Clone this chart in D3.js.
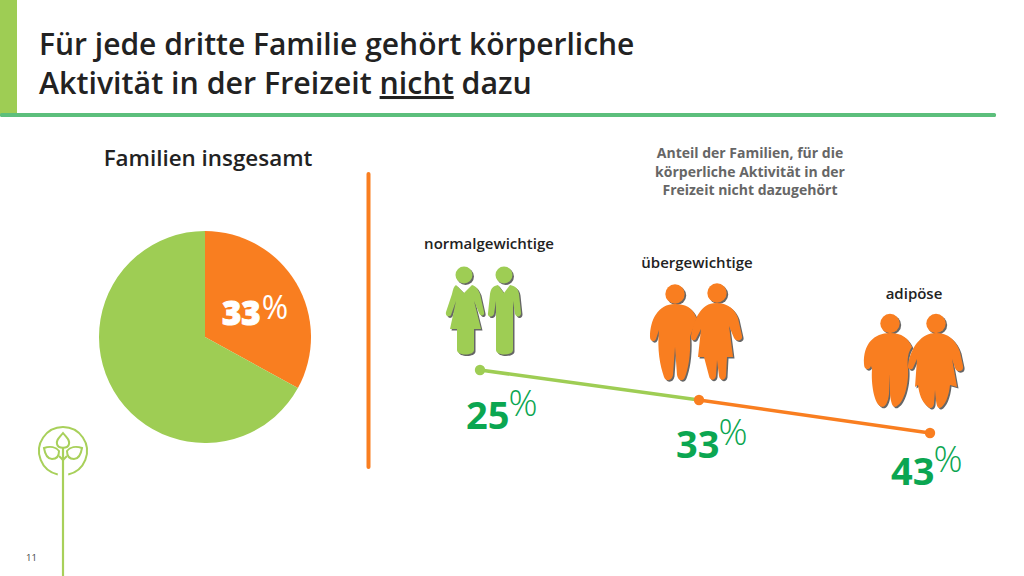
<!DOCTYPE html>
<html lang="de">
<head>
    <meta charset="UTF-8">
    <title>Familien</title>
    <script src="https://d3js.org/d3.v7.min.js"></script>
    <style>
        html, body { margin: 0; padding: 0; background: #fff; }
        svg { display: block; }
        text { font-family: "Open Sans", "Noto Sans", sans-serif; }
    </style>
</head>
<body>
<script>
    // Kreisdiagramm: Familien insgesamt
    var pieLabels = ['nicht dazu', 'dazu'];
    var pieValues = [33, 67];
    // Linie: nach Gewichtsgruppe
    var groups = ['normalgewichtige', 'übergewichtige', 'adipöse'];
    var groupValues = [25, 33, 43];
    var titleLines = ['Für jede dritte Familie gehört körperliche', 'Aktivität in der Freizeit ', 'nicht', ' dazu'];
    var noteLines = ['Anteil der Familien, für die', 'körperliche Aktivität in der', 'Freizeit nicht dazugehört'];

    var width = 1024, height = 576;
    var green = '#9ecd54', orange = '#f97e20', pctGreen = '#0ba651', shadow = '#666666', dark = '#222222';

    var svg = d3.select('body').append('svg').attr('width', width).attr('height', height);

    // Kopf
    svg.append('rect').attr('x', 0).attr('y', 0).attr('width', 17).attr('height', 116).attr('fill', green);
    svg.append('rect').attr('x', 0).attr('y', 113).attr('width', 996).attr('height', 4).attr('rx', 1.5).attr('fill', '#5cbf7c');
    var title = svg.append('text').attr('x', 39).attr('y', 55).attr('font-size', 30).attr('font-weight', 600).attr('fill', dark);
    title.text(titleLines[0]);
    var title2 = svg.append('text').attr('x', 39).attr('y', 94).attr('font-size', 30.35).attr('font-weight', 600).attr('fill', dark);
    title2.append('tspan').attr('xml:space', 'preserve').text(titleLines[1]);
    title2.append('tspan').attr('text-decoration', 'underline').text(titleLines[2]);
    title2.append('tspan').text(titleLines[3]);

    // Kreis
    svg.append('text').attr('x', 208).attr('y', 166).attr('text-anchor', 'middle')
        .attr('font-size', 22.4).attr('font-weight', 600).attr('fill', dark).text('Familien insgesamt');
    var pieData = d3.pie().sort(null)(pieValues);
    var arc = d3.arc().innerRadius(0).outerRadius(106);
    var pieG = svg.append('g').attr('transform', 'translate(205,337)');
    pieG.selectAll('path').data(pieData).enter().append('path')
        .attr('d', arc)
        .attr('fill', function (d, i) { return i === 0 ? orange : green; });
    var pieText = svg.append('text').attr('x', 222).attr('y', 325).attr('fill', '#fff');
    pieText.append('tspan').attr('font-size', 33).attr('font-weight', 800)
        .attr('stroke', '#fff').attr('stroke-width', 1).text(pieValues[0]);
    pieText.append('tspan').attr('font-size', 32).attr('dx', 1).attr('dy', -6).text('%');

    // Trennlinie
    svg.append('line').attr('x1', 368.5).attr('x2', 368.5).attr('y1', 174).attr('y2', 467)
        .attr('stroke', orange).attr('stroke-width', 4).attr('stroke-linecap', 'round');

    // Anmerkung
    svg.append('g').selectAll('text').data(noteLines).enter().append('text')
        .attr('x', 750).attr('y', function (d, i) { return 158 + i * 18.5; })
        .attr('text-anchor', 'middle').attr('font-size', 14).attr('font-weight', 700).attr('fill', '#666')
        .text(function (d) { return d; });

    // Figuren
    var slimWoman = 'M11,-19 L19,-11 L27,-19 C31,-18 33,-15 35,-10 L39,8 C40,12 36,13 34,9 L29,-3 L36,25 L29,25 L29,46 C29,52 12,52 12,46 L12,25 L5,25 L11,-3 L6,11 C4,14 0,12 1,8 L7,-10 C8,-15 9,-18 11,-19 Z';
    var slimMan = 'M11,-19 L17,-11 L23,-19 C28,-18 31,-16 32,-10 L34,9 C34,13 30,14 28,10 L26,-3 L26,46 C26,52 9,52 9,46 L9,-3 L7,10 C5,14 0,13 1,9 L3,-10 C4,-16 6,-18 11,-19 Z';
    var overMan = 'M25,19 C35,19 42,22 46,32 C47,36 42,45 40,52 C41,70 38,85 35,92 C33,97 28,96 27,90 L25,62 L23,90 C22,96 16,97 14,92 C10,80 7,65 9,45 L6,54 C4,58 0,56 0,52 C0,35 8,19 25,19 Z';
    var overWoman = 'M25,19 C38,19 44,26 47,34 L51,52 C52,57 45,58 43,54 L38,42 L42,73 L36,73 L35,92 C34,97 29,97 28,92 L26,76 L25,92 C24,97 19,97 18,92 L13,73 L7,73 L10,45 L5,55 C3,58 -1,56 0,52 C3,35 10,19 25,19 Z';
    var adiMan = 'M26,19 C38,19 44,24 48,33 C44,38 43,45 44,55 C45,70 40,88 33,92 C29,95 27,90 26,80 L25,60 L25,80 C24,90 20,95 16,92 C10,88 7,70 8,55 L7,52 C5,57 0,56 0,50 C-1,30 10,19 26,19 Z';
    var adiWoman = 'M28,19 C40,19 48,26 52,38 L55,52 C56,58 49,59 47,54 L44,45 L49,73 L42,71 C41,82 37,92 32,94 C29,95 28,90 27,76 L26,90 C25,95 22,95 19,92 C14,88 11,80 10,71 L7,73 L9,45 L5,54 C3,57 -1,55 0,51 C3,32 14,19 28,19 Z';

    function figure(x, y, path, hx, hy, r, col) {
        [[1.5, 1.5, shadow], [0, 0, col]].forEach(function (p) {
            var g = svg.append('g').attr('transform', 'translate(' + (x + p[0]) + ',' + (y + p[1]) + ')').attr('fill', p[2]);
            g.append('circle').attr('cx', hx).attr('cy', hy).attr('r', r);
            g.append('path').attr('d', path);
        });
    }
    figure(445, 304, slimWoman, 19, -29, 8.5, green);
    figure(487, 304, slimMan, 17, -29, 8.5, green);
    figure(650, 285, overMan, 25, 9, 9.7, orange);
    figure(691, 284, overWoman, 26, 9, 9.7, orange);
    figure(864, 314, adiMan, 26, 9.5, 9.7, orange);
    figure(908, 314, adiWoman, 28, 9.5, 9.7, orange);

    // Gruppennamen
    var labelX = [489, 697, 914], labelY = [249, 268, 299];
    svg.append('g').selectAll('text').data(groups).enter().append('text')
        .attr('x', function (d, i) { return labelX[i]; })
        .attr('y', function (d, i) { return labelY[i]; })
        .attr('text-anchor', 'middle').attr('font-size', 15).attr('font-weight', 600).attr('fill', dark)
        .text(function (d) { return d; });

    // Linie
    var x = d3.scaleLinear().domain([0, 1, 2]).range([480, 699, 930]);
    var y = d3.scaleLinear().domain([25, 33, 43]).range([370, 400, 433]);
    var line = d3.line().x(function (d) { return x(d.i); }).y(function (d) { return y(d.v); });
    var pts = groupValues.map(function (v, i) { return {i: i, v: v}; });
    svg.append('path').attr('d', line(pts.slice(0, 2))).attr('fill', 'none').attr('stroke', green).attr('stroke-width', 3.5);
    svg.append('path').attr('d', line(pts.slice(1))).attr('fill', 'none').attr('stroke', orange).attr('stroke-width', 3.5);
    svg.append('g').selectAll('circle').data(pts).enter().append('circle')
        .attr('cx', function (d) { return x(d.i); })
        .attr('cy', function (d) { return y(d.v); })
        .attr('r', 5.2)
        .attr('fill', function (d) { return d.i === 0 ? green : orange; });

    // Prozentwerte
    var pctDx = [-14, -23, -39], pctDy = [59, 58, 52];
    var pct = svg.append('g').selectAll('text').data(pts).enter().append('text')
        .attr('x', function (d) { return x(d.i) + pctDx[d.i]; })
        .attr('y', function (d) { return y(d.v) + pctDy[d.i]; })
        .attr('fill', pctGreen);
    pct.append('tspan').attr('font-size', 38).attr('font-weight', 700).text(function (d) { return d.v; });
    pct.append('tspan').attr('font-size', 36).attr('font-weight', 300).attr('dx', -1).attr('dy', -13).text('%');

    // Logo
    var logo = svg.append('g').attr('transform', 'translate(63,451)').attr('fill', 'none').attr('stroke', '#a8d05a').attr('stroke-width', 2);
    logo.append('path').attr('d', d3.arc().innerRadius(24).outerRadius(24).startAngle(Math.PI * 1.07).endAngle(Math.PI * 2.93)());
    logo.append('line').attr('x1', 0).attr('x2', 0).attr('y1', -4).attr('y2', 125).attr('stroke-width', 2.2);
    logo.append('path').attr('d', 'M0,-18 C-4,-13 -7,-11 -6,-7 C-5,-2 5,-2 6,-7 C7,-11 4,-13 0,-18 Z');
    logo.append('path').attr('d', 'M-19,-3 C-13,-5 -7,-4 -4,0 C-4,5 -6,8 -11,8 C-16,8 -18,3 -19,-3 Z');
    logo.append('path').attr('d', 'M19,-3 C13,-5 7,-4 4,0 C4,5 6,8 11,8 C16,8 18,3 19,-3 Z');
    logo.append('path').attr('d', 'M-4,5 L0,9 L4,5');

    svg.append('text').attr('x', 26).attr('y', 561).attr('font-size', 9.5).attr('fill', '#444').text('11');
</script>
</body>
</html>
